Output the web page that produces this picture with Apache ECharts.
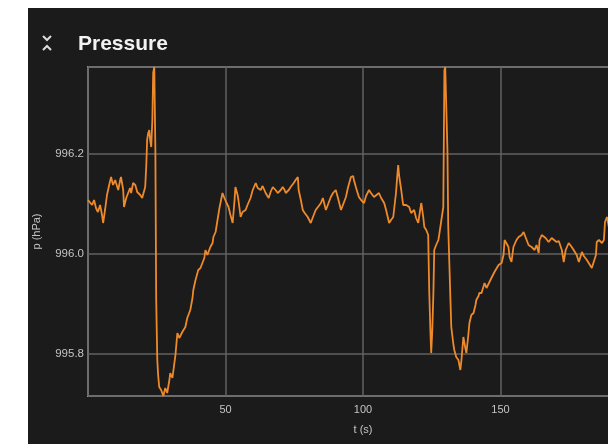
<!DOCTYPE html>
<html>
<head>
<meta charset="utf-8">
<script src="https://cdn.jsdelivr.net/npm/echarts@6/dist/echarts.min.js"></script>
<style>
  html, body { margin: 0; padding: 0; background: #ffffff; overflow: hidden; width: 608px; height: 444px; }
  #panel { position: absolute; left: 28px; top: 8px; width: 620px; height: 436px; background: #1b1b1b; }
</style>
</head>
<body>
<div id="panel"></div>
<script>
// Time stamps (s) of the pressure readings
const timeSec = [
  0.0, 0.7, 1.5, 2.2, 2.9, 3.6, 4.4, 5.1, 5.5, 6.2, 6.9, 7.7, 8.4, 9.1, 9.9, 10.2, 11.0, 11.7, 12.0, 12.8,
  13.1, 13.9, 14.6, 15.3, 15.7, 16.4, 17.2, 17.9, 18.2, 19.0, 19.7, 20.1, 20.8, 21.2, 21.5, 21.9, 22.3, 22.6, 23.0, 23.4,
  23.7, 24.1, 24.5, 24.8, 25.2, 25.5, 25.9, 26.6, 27.4, 28.1, 28.8, 29.6, 29.9, 30.7, 31.0, 31.8, 32.5, 33.2, 33.6, 34.3,
  35.4, 36.1, 37.2, 38.0, 38.3, 39.1, 40.1, 40.9, 41.6, 42.3, 42.7, 43.4, 44.5, 45.3, 45.6, 46.4, 47.1, 47.8, 48.9, 49.6,
  50.4, 51.1, 51.8, 52.6, 53.3, 53.6, 54.4, 54.7, 55.5, 56.2, 57.3, 58.0, 59.1, 59.9, 61.0, 61.7, 62.8, 63.5, 64.6, 65.7,
  66.4, 67.2, 68.2, 69.0, 70.1, 70.8, 71.5, 71.9, 73.0, 73.7, 74.8, 75.5, 76.3, 76.6, 77.4, 78.1, 78.8, 79.9, 81.0, 81.8,
  82.8, 83.9, 84.7, 85.4, 86.5, 87.2, 88.3, 89.1, 90.1, 90.9, 92.0, 92.7, 93.8, 94.5, 95.6, 96.4, 96.7, 97.5, 98.5, 99.3,
  100.4, 101.1, 102.2, 102.9, 104.0, 104.7, 105.8, 106.6, 107.7, 108.4, 109.5, 110.2, 111.0, 111.7, 112.0, 112.4, 112.8, 113.1, 113.9, 114.6,
  115.0, 115.7, 116.4, 116.8, 117.5, 118.2, 118.6, 119.3, 120.1, 120.4, 121.2, 121.9, 122.3, 123.0, 123.7, 124.1, 124.5, 124.8, 125.2, 125.6,
  125.9, 126.6, 127.4, 127.7, 128.5, 129.2, 129.6, 129.9, 130.3, 130.7, 131.0, 131.8, 132.1, 132.9, 133.2, 133.9, 134.7, 135.4, 135.8, 136.5,
  137.2, 137.6, 138.3, 138.7, 139.4, 140.2, 140.9, 141.2, 142.0, 142.3, 143.1, 144.2, 144.9, 145.6, 146.7, 147.8, 148.5, 149.3, 150.4, 151.1,
  151.5, 152.2, 152.9, 153.3, 154.0, 154.7, 155.1, 155.8, 156.6, 157.7, 158.4, 159.5, 160.2, 161.3, 162.4, 163.1, 163.9, 164.2, 165.0, 165.7,
  166.4, 167.5, 168.6, 169.3, 170.4, 171.2, 172.3, 173.0, 173.7, 174.8, 175.9, 176.6, 177.7, 178.5, 179.6, 180.3, 181.4, 182.1, 183.2, 183.9,
  184.7, 185.0, 185.8, 186.9, 187.6, 188.0, 188.7, 189.4, 190.5, 191.6, 192.7, 193.8, 195.0, 196.2, 197.4, 198.6, 200.0
];

// Pressure readings (hPa)
const pressureHPa = [
  996.108, 996.112, 996.098, 996.108, 996.092, 996.084, 996.098, 996.078, 996.062, 996.088, 996.118, 996.138, 996.154, 996.138, 996.148, 996.142, 996.128, 996.148, 996.154, 996.128,
  996.094, 996.112, 996.122, 996.132, 996.122, 996.142, 996.138, 996.124, 996.128, 996.118, 996.112, 996.108, 996.134, 996.178, 996.228, 996.242, 996.248, 996.228, 996.214, 996.268,
  996.362, 996.374, 996.208, 995.908, 995.788, 995.758, 995.734, 995.728, 995.716, 995.732, 995.722, 995.748, 995.762, 995.752, 995.748, 995.798, 995.842, 995.832, 995.834, 995.844,
  995.854, 995.872, 995.888, 995.912, 995.928, 995.948, 995.968, 995.972, 995.974, 995.992, 996.008, 995.998, 996.014, 996.022, 996.034, 996.044, 996.068, 996.092, 996.122, 996.112,
  996.102, 996.094, 996.078, 996.062, 996.108, 996.134, 996.118, 996.108, 996.074, 996.084, 996.088, 996.098, 996.112, 996.128, 996.142, 996.132, 996.128, 996.136, 996.122, 996.112,
  996.124, 996.134, 996.128, 996.122, 996.128, 996.134, 996.128, 996.122, 996.128, 996.134, 996.142, 996.148, 996.154, 996.128, 996.108, 996.088, 996.082, 996.074, 996.062, 996.074,
  996.088, 996.096, 996.102, 996.112, 996.088, 996.098, 996.114, 996.122, 996.128, 996.112, 996.088, 996.098, 996.114, 996.132, 996.154, 996.156, 996.148, 996.132, 996.114, 996.108,
  996.102, 996.116, 996.128, 996.122, 996.114, 996.118, 996.122, 996.112, 996.102, 996.088, 996.062, 996.068, 996.074, 996.108, 996.122, 996.152, 996.178, 996.158, 996.128, 996.098,
  996.094, 996.098, 996.102, 996.094, 996.082, 996.084, 996.088, 996.072, 996.062, 996.074, 996.102, 996.074, 996.054, 996.048, 996.038, 995.922, 995.848, 995.802, 995.848, 995.922,
  996.008, 996.018, 996.028, 996.038, 996.068, 996.094, 996.368, 996.374, 996.374, 996.208, 996.054, 995.908, 995.854, 995.818, 995.808, 995.794, 995.788, 995.768, 995.788, 995.834,
  995.812, 995.802, 995.838, 995.862, 995.878, 995.882, 995.898, 995.908, 995.916, 995.922, 995.922, 995.942, 995.932, 995.934, 995.952, 995.964, 995.968, 995.978, 995.982, 995.998,
  996.028, 996.024, 996.014, 995.994, 995.984, 996.014, 996.018, 996.028, 996.034, 996.038, 996.044, 996.028, 996.018, 996.014, 996.008, 996.018, 996.002, 996.028, 996.038, 996.042,
  996.032, 996.024, 996.032, 996.030, 996.024, 996.026, 996.008, 995.984, 996.008, 996.022, 996.014, 996.008, 995.998, 995.984, 996.004, 995.996, 995.988, 995.984, 995.972, 995.968,
  995.998, 996.024, 996.028, 996.022, 996.028, 996.064, 996.074, 996.054, 996.036, 996.046, 996.030, 996.040, 996.052, 996.034, 996.044, 996.028, 996.038
];

const titleText = 'Pressure';
const xAxisName = 't (s)';
const yAxisName = 'p (hPa)';

const seriesData = timeSec.map((t, i) => [t, pressureHPa[i]]);

const chart = echarts.init(document.getElementById('panel'), null, { renderer: 'canvas' });

const labelFont = { color: '#c4c4c4', fontSize: 11, fontFamily: 'Liberation Sans, Arial, sans-serif' };

chart.setOption({
  animation: false,
  backgroundColor: '#1b1b1b',
  grid: {
    left: 60, top: 59, right: 10, bottom: 48,
    outerBoundsMode: 'none', containLabel: false,
    show: true, borderColor: '#909090', borderWidth: 2, backgroundColor: 'transparent'
  },
  graphic: [
    // collapse toggle: a down chevron over an up chevron
    { type: 'polyline', shape: { points: [[15, 28], [19, 32], [23, 28]] },
      style: { stroke: '#dcdcdc', lineWidth: 2, fill: null } },
    { type: 'polyline', shape: { points: [[15, 42], [19, 38], [23, 42]] },
      style: { stroke: '#dcdcdc', lineWidth: 2, fill: null } },
    { type: 'text', left: 50, top: 26,
      style: { text: titleText, fill: '#f2f2f2', fontSize: 21, fontWeight: 'bold',
               fontFamily: 'Liberation Sans, Arial, sans-serif' } }
  ],
  xAxis: {
    type: 'value', min: 0, max: 200, interval: 50,
    name: xAxisName, nameLocation: 'middle', nameGap: 28,
    nameTextStyle: labelFont,
    axisLine: { show: false }, axisTick: { show: false },
    axisLabel: Object.assign({ margin: 8, showMinLabel: false }, labelFont),
    splitLine: { show: true, lineStyle: { color: '#626262', width: 1.5 } }
  },
  yAxis: {
    type: 'value', min: 'dataMin', max: 'dataMax', splitNumber: 3,
    name: yAxisName, nameLocation: 'middle', nameGap: 46, nameRotate: 90,
    nameTextStyle: labelFont,
    axisLine: { show: false }, axisTick: { show: false },
    axisLabel: Object.assign({ margin: 4, showMinLabel: false, showMaxLabel: false,
      formatter: v => v.toFixed(1) }, labelFont, { fontSize: 11.5 }),
    splitLine: { show: true, lineStyle: { color: '#626262', width: 1.5 } }
  },
  series: [{
    type: 'line',
    data: seriesData,
    showSymbol: false,
    lineStyle: { color: '#ee8a2c', width: 1.8 },
    itemStyle: { color: '#ee8a2c' }
  }]
});
</script>
</body>
</html>
